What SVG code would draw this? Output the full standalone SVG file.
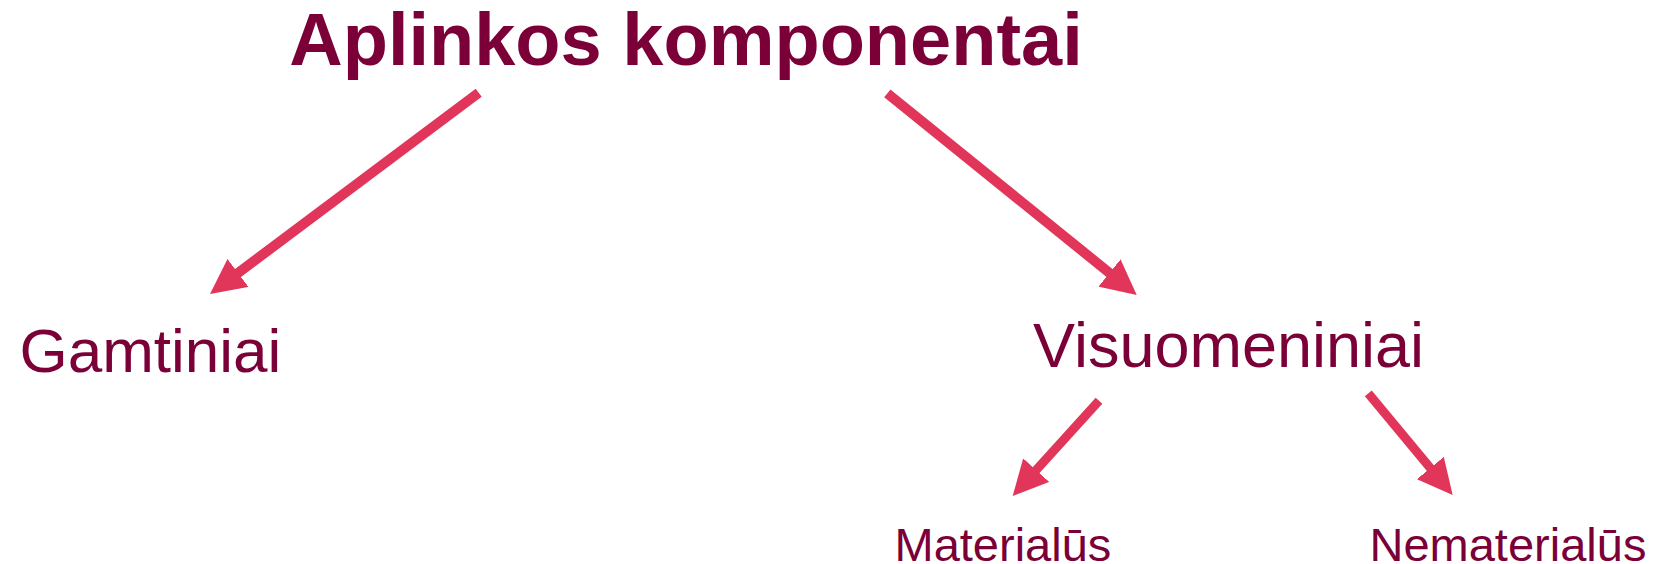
<svg xmlns="http://www.w3.org/2000/svg" width="1658" height="564" viewBox="0 0 1658 564">
<style>
.t{font-family:"Liberation Sans",Arial,sans-serif;fill:#7A0037}
.title{font-weight:bold;font-size:74px}
.mid{font-size:63px}
.sm{font-size:47px}
.c{stroke:#E1355A;fill:none}
</style>
<defs>
<marker id="ah" markerUnits="userSpaceOnUse" viewBox="0 -17.5 35 35" refX="5" refY="0" markerWidth="35" markerHeight="35" orient="auto">
<path d="M0,-17.5 L35,0 L0,17.5 z" fill="#E1355A"/>
</marker>
</defs>
<g id="connectors">
<line class="c" x1="478.7" y1="92.7" x2="234" y2="276" stroke-width="10" marker-end="url(#ah)"/>
<line class="c" x1="887.3" y1="93.3" x2="1113.4" y2="276.1" stroke-width="10" marker-end="url(#ah)"/>
<line class="c" x1="1099" y1="400.7" x2="1032.8" y2="473.8" stroke-width="9" marker-end="url(#ah)"/>
<line class="c" x1="1368.3" y1="393.3" x2="1433.5" y2="471.9" stroke-width="9" marker-end="url(#ah)"/>
</g>
<g id="n-root"><text class="t title" x="686" y="65" text-anchor="middle">Aplinkos komponentai</text></g>
<g id="n-gamtiniai"><text class="t mid" x="19.5" y="372" style="font-size:62px">Gamtiniai</text></g>
<g id="n-visuomeniniai"><text class="t mid" x="1033" y="367">Visuomeniniai</text></g>
<g id="n-materialus"><text class="t sm" x="894.5" y="561">Materialūs</text></g>
<g id="n-nematerialus"><text class="t sm" x="1369.5" y="561">Nematerialūs</text></g>
</svg>
